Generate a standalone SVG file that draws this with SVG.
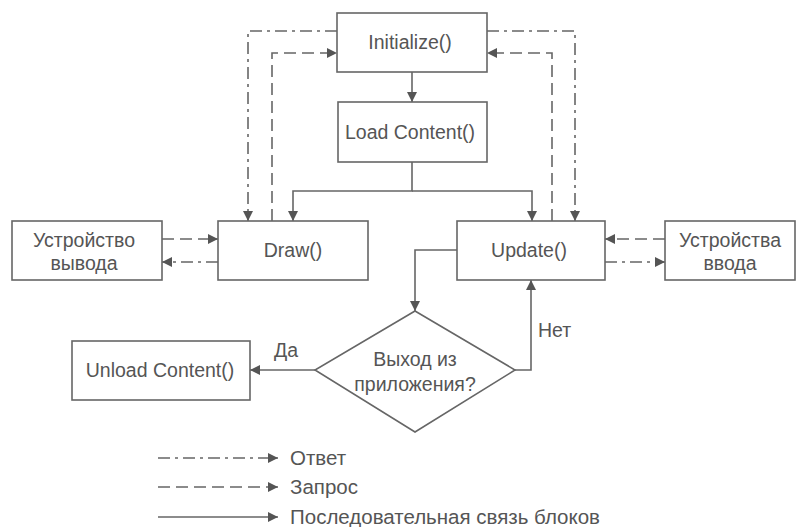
<svg xmlns="http://www.w3.org/2000/svg" width="803" height="527" viewBox="0 0 803 527">
<style>
.box{fill:#fff;stroke:#666;stroke-width:1.6}
.t{font-family:"Liberation Sans",Arial,sans-serif;font-size:19.5px;fill:#555;text-anchor:middle}
.lt{font-family:"Liberation Sans",Arial,sans-serif;font-size:19.5px;fill:#555}
.lg{font-family:"Liberation Sans",Arial,sans-serif;font-size:20.5px;fill:#555}
.c{fill:none;stroke:#666;stroke-width:1.6}
.dash{stroke-dasharray:12 6}
.dd{stroke-dasharray:12 5 3 5}
</style>
<defs>
<marker id="ah" viewBox="0 0 10 10" refX="10" refY="5" markerWidth="10" markerHeight="10" markerUnits="userSpaceOnUse" orient="auto">
<path d="M0,0 L10,5 L0,10 z" fill="#555"/>
</marker>
</defs>
<rect width="803" height="527" fill="#fff"/>
<g id="connectors">
<path class="c" d="M412,72 V102" marker-end="url(#ah)"/>
<path class="c" d="M412,162 V191 H293 V221" marker-end="url(#ah)"/>
<path class="c" d="M412,191 H532 V221" marker-end="url(#ah)"/>
<path class="c" d="M457,250 H415 V311" marker-end="url(#ah)"/>
<path class="c" d="M315,370 H250" marker-end="url(#ah)"/>
<path class="c" d="M515,370 H531 V280" marker-end="url(#ah)"/>
<path class="c dash" d="M272,221 V53 H337" marker-end="url(#ah)"/>
<path class="c dash" d="M552,221 V53 H487" marker-end="url(#ah)"/>
<path class="c dash" d="M162,239 H218" marker-end="url(#ah)"/>
<path class="c dash" d="M665,239 H605" marker-end="url(#ah)"/>
<path class="c dd" d="M337,31 H248 V221" marker-end="url(#ah)"/>
<path class="c dd" d="M487,31 H575 V221" marker-end="url(#ah)"/>
<path class="c dd" d="M218,262 H162" marker-end="url(#ah)"/>
<path class="c dd" d="M605,262 H665" marker-end="url(#ah)"/>
</g>
<g id="initialize"><rect class="box" x="337" y="13" width="150" height="59"/><text class="t" x="410" y="49">Initialize()</text></g>
<g id="load"><rect class="box" x="338" y="102" width="149" height="60"/><text class="t" x="410" y="139">Load Content()</text></g>
<g id="draw"><rect class="box" x="218" y="221" width="150" height="59"/><text class="t" x="293" y="257">Draw()</text></g>
<g id="update"><rect class="box" x="457" y="221" width="148" height="59"/><text class="t" x="529" y="257">Update()</text></g>
<g id="output"><rect class="box" x="12" y="221" width="150" height="59"/><text class="t" x="84" y="247">Устройство</text><text class="t" x="84" y="270">вывода</text></g>
<g id="input"><rect class="box" x="665" y="221" width="130" height="59"/><text class="t" x="730" y="247">Устройства</text><text class="t" x="730" y="270">ввода</text></g>
<g id="decision"><path class="box" d="M415,311 L515,370 L415,432 L315,370 z"/><text class="t" x="415" y="366">Выход из</text><text class="t" x="415" y="391">приложения?</text></g>
<g id="unload"><rect class="box" x="72" y="341" width="178" height="59"/><text class="t" x="160" y="377">Unload Content()</text></g>
<g id="labels"><text class="lt" x="274" y="357">Да</text><text class="lt" x="538" y="337">Нет</text></g>
<g id="legend">
<path class="c dd" d="M158,458 H278" marker-end="url(#ah)"/>
<path class="c dash" d="M158,487 H278" marker-end="url(#ah)"/>
<path class="c" d="M158,517 H278" marker-end="url(#ah)"/>
<text class="lg" x="290" y="465">Ответ</text>
<text class="lg" x="290" y="494">Запрос</text>
<text class="lg" x="290" y="524">Последовательная связь блоков</text>
</g>
</svg>
